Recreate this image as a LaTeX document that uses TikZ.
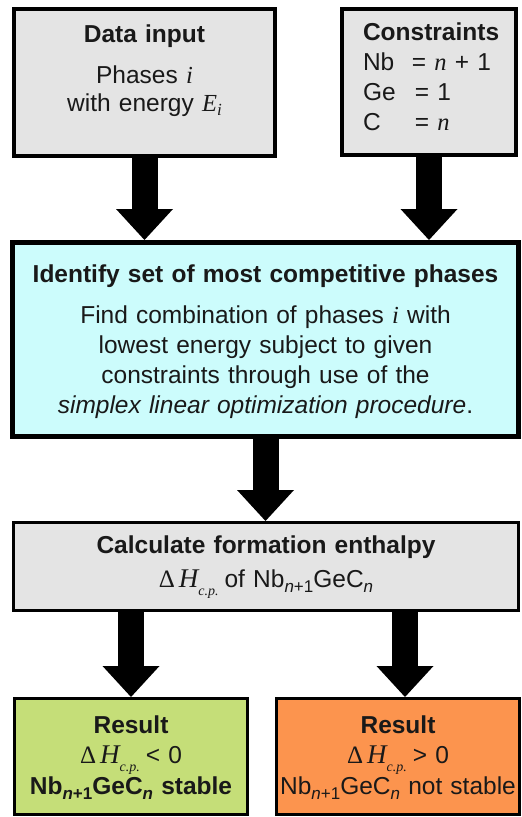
\documentclass[tikz,border=0pt]{standalone}
\usepackage{fontspec}
\setmainfont{Liberation Sans}
\newfontfamily\tmsfont{Liberation Serif}
\usetikzlibrary{arrows.meta}
\definecolor{boxgray}{RGB}{228,228,228}
\definecolor{boxcyan}{RGB}{204,252,252}
\definecolor{boxgreen}{RGB}{197,222,120}
\definecolor{boxorange}{RGB}{252,148,78}
\definecolor{inkc}{RGB}{25,25,25}
\newcommand{\mvar}[1]{{\tmsfont\itshape #1}}
\newcommand{\lowsub}[2]{\raisebox{#1}{\fontsize{17}{17}\selectfont #2}}
\newcommand{\dHcp}{{\tmsfont\fontsize{25}{25}\selectfont Δ\kern4pt\fontsize{27}{27}\selectfont\itshape H}\raisebox{-8pt}{\fontsize{14}{14}\selectfont\tmsfont\itshape c.p.}\kern6pt}
\newcommand{\NbGeC}{Nb\lowsub{-5pt}{\textit{n}+1}GeC\lowsub{-5pt}{\textit{n}}}
\begin{document}
\begin{tikzpicture}[x=1pt,y=-1pt,text=inkc,
  box/.style={draw=black, rectangle, inner sep=0pt, text height=0pt, align=center},
  arr/.style={line width=26pt, -{Triangle[length=31pt,width=57pt,line width=0pt]}}]
\useasboundingbox (0,0) rectangle (522,817);

\node[box, line width=4pt, fill=boxgray, minimum width=261pt, minimum height=147pt,
  text width=250pt, text depth=81pt, font=\fontsize{24.5}{28}\selectfont]
  (input) at (144.5,82.5)
  {\textbf{Data input}\\[13pt]Phases \mvar{i}\\with energy \mvar{E}\lowsub{-4pt}{\mvar{i}}};

\node[box, line width=4pt, fill=boxgray, minimum width=174pt, minimum height=146pt,
  text width=132pt, align=left, text depth=84pt, font=\fontsize{24.5}{30}\selectfont]
  (cons) at (429,82)
  {\mbox{\textbf{Constraints}}\\\makebox[49pt][l]{Nb}= \mvar{n} + 1\\\makebox[52pt][l]{Ge}= 1\\\makebox[52pt][l]{C}= \mvar{n}};

\node[box, line width=5pt, fill=boxcyan, minimum width=506pt, minimum height=194pt,
  text width=495pt, text depth=115pt, font=\fontsize{24.5}{30.3}\selectfont]
  (select) at (265.5,339.5)
  {\textbf{Identify set of most competitive phases}\\[10.7pt]Find combination of phases \mvar{i} with\\lowest energy subject to given\\constraints through use of the\\\textit{simplex linear optimization procedure}.};

\node[box, line width=3pt, fill=boxgray, minimum width=505pt, minimum height=88pt,
  text width=495pt, text depth=27pt, font=\fontsize{24.5}{34}\selectfont]
  (enth) at (266,566.5)
  {\textbf{Calculate formation enthalpy}\\\dHcp{}of \NbGeC};

\node[box, line width=3pt, fill=boxgreen, minimum width=233pt, minimum height=116pt,
  text width=230pt, text depth=47pt, font=\fontsize{24.5}{30.5}\selectfont]
  (stable) at (131,756.5)
  {\textbf{Result}\\\dHcp{}< 0\\\textbf{\NbGeC{} stable}};

\node[box, line width=3pt, fill=boxorange, minimum width=243pt, minimum height=116pt,
  text width=243pt, text depth=47pt, font=\fontsize{24.5}{30.5}\selectfont]
  (unstable) at (398,756.5)
  {\textbf{Result}\\\dHcp{}> 0\\\NbGeC{} not stable};

\coordinate (ftop) at ([xshift=7pt]unstable.north);
\draw[arr] (input.south) -- (input.south |- select.north);
\draw[arr] (cons.south) -- (cons.south |- select.north);
\draw[arr] (select.south) -- (select.south |- enth.north);
\draw[arr] (stable.north |- enth.south) -- (stable.north);
\draw[arr] (ftop |- enth.south) -- (ftop);
\end{tikzpicture}
\end{document}
